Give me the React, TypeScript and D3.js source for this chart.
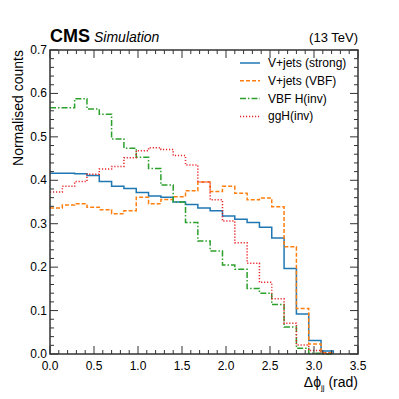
import React, { useEffect, useRef } from 'react';
import * as d3 from 'd3';

// bin width 0.14 rad, 23 filled bins from 0 to 3.22
const binWidth = 0.14;
const strong = [0.416, 0.416, 0.415, 0.411, 0.397, 0.386, 0.381, 0.372, 0.364, 0.361, 0.350, 0.344, 0.336, 0.330, 0.318, 0.310, 0.303, 0.292, 0.267, 0.197, 0.092, 0.031, 0.007];
const vbf = [0.336, 0.343, 0.346, 0.338, 0.332, 0.323, 0.330, 0.361, 0.346, 0.356, 0.362, 0.376, 0.396, 0.374, 0.386, 0.370, 0.355, 0.359, 0.339, 0.247, 0.105, 0.023, 0.003];
const vbfH = [0.567, 0.567, 0.588, 0.564, 0.552, 0.495, 0.474, 0.453, 0.427, 0.389, 0.350, 0.303, 0.260, 0.237, 0.205, 0.195, 0.151, 0.140, 0.114, 0.062, 0.013, 0.002, 0];
const ggH = [0.373, 0.386, 0.397, 0.414, 0.426, 0.432, 0.452, 0.468, 0.475, 0.471, 0.457, 0.435, 0.396, 0.355, 0.306, 0.256, 0.209, 0.165, 0.127, 0.071, 0.021, 0.008, 0.002];

const seriesNames = ['V+jets (strong)', 'V+jets (VBF)', 'VBF H(inv)', 'ggH(inv)'];
const xTicks = [0, 0.5, 1.0, 1.5, 2.0, 2.5, 3.0, 3.5];
const yTicks = [0, 0.1, 0.2, 0.3, 0.4, 0.5, 0.6, 0.7];

const App = () => {
  const svgRef = useRef(null);

  useEffect(() => {
    const W = 399, H = 399;
    const margin = { top: 50, right: 41, bottom: 45, left: 50 };
    const width = W - margin.left - margin.right;
    const height = H - margin.top - margin.bottom;
    const font = '"Liberation Sans", Arial, Helvetica, sans-serif';

    const root = d3.select(svgRef.current).attr('width', W).attr('height', H);
    root.selectAll('*').remove();
    const svg = root.append('g').attr('transform', `translate(${margin.left},${margin.top})`);

    const x = d3.scaleLinear().domain([0, 3.5]).range([0, width]);
    const y = d3.scaleLinear().domain([0, 0.7]).range([height, 0]);

    const styles = [
      { data: strong, color: '#1f77b4', dash: null },
      { data: vbf, color: '#ff7f0e', dash: '4,2' },
      { data: vbfH, color: '#2ca02c', dash: '6,2,1.5,2' },
      { data: ggH, color: '#e8262a', dash: '1.2,1.8' },
    ];

    const line = d3.line<[number, number]>()
      .x(d => x(d[0]))
      .y(d => y(d[1]))
      .curve(d3.curveStepAfter);

    styles.forEach(s => {
      const pts: [number, number][] = s.data.map((v, i) => [i * binWidth, v]);
      pts.push([s.data.length * binWidth, 0]);
      svg.append('path')
        .attr('d', line(pts))
        .attr('fill', 'none')
        .attr('stroke', s.color)
        .attr('stroke-width', 1.5)
        .attr('stroke-dasharray', s.dash);
    });

    // frame and ticks on all sides
    const axisColor = '#333';
    const majorLen = 8, minorLen = 4;
    const xMinor = d3.range(0, 3.5001, 0.1);
    const yMinor = d3.range(0, 0.7001, 0.02);
    const tickG = svg.append('g').attr('stroke', axisColor).attr('stroke-width', 1);
    xMinor.forEach(v => {
      const isMajor = Math.abs(v * 2 - Math.round(v * 2)) < 1e-6;
      const len = isMajor ? majorLen : minorLen;
      tickG.append('line').attr('x1', x(v)).attr('x2', x(v)).attr('y1', height).attr('y2', height - len);
      tickG.append('line').attr('x1', x(v)).attr('x2', x(v)).attr('y1', 0).attr('y2', len);
    });
    yMinor.forEach(v => {
      const isMajor = Math.abs(v * 10 - Math.round(v * 10)) < 1e-6;
      const len = isMajor ? majorLen : minorLen;
      tickG.append('line').attr('y1', y(v)).attr('y2', y(v)).attr('x1', 0).attr('x2', len);
      tickG.append('line').attr('y1', y(v)).attr('y2', y(v)).attr('x1', width).attr('x2', width - len);
    });
    svg.append('rect')
      .attr('width', width).attr('height', height)
      .attr('fill', 'none').attr('stroke', axisColor).attr('stroke-width', 1.5);

    svg.selectAll('.xl').data(xTicks).enter().append('text')
      .attr('x', d => x(d)).attr('y', height + 16)
      .attr('text-anchor', 'middle')
      .style('font-family', font).style('font-size', '12px')
      .text(d => d.toFixed(1));

    svg.selectAll('.yl').data(yTicks).enter().append('text')
      .attr('x', -3).attr('y', d => y(d) + 4)
      .attr('text-anchor', 'end')
      .style('font-family', font).style('font-size', '12px')
      .text(d => d.toFixed(1));

    // axis titles
    svg.append('text')
      .attr('transform', 'rotate(-90)')
      .attr('x', 0).attr('y', -27)
      .attr('text-anchor', 'end')
      .style('font-family', font).style('font-size', '14px')
      .text('Normalised counts');

    const xl = svg.append('text')
      .attr('x', width).attr('y', height + 33)
      .attr('text-anchor', 'end')
      .style('font-family', font).style('font-size', '14px');
    xl.append('tspan').text('\u0394\u03d5');
    xl.append('tspan').attr('dy', 3).style('font-size', '8px').text('jj');
    xl.append('tspan').attr('dy', -3).text(' (rad)');

    // CMS header
    const hdr = svg.append('text').attr('x', 0).attr('y', -8).style('font-family', font);
    hdr.append('tspan').style('font-weight', 'bold').style('font-size', '18px').text('CMS');
    hdr.append('tspan').attr('dx', 4).style('font-style', 'italic').style('font-size', '14px').text('Simulation');

    svg.append('text')
      .attr('x', width).attr('y', -8)
      .attr('text-anchor', 'end')
      .style('font-family', font).style('font-size', '13px')
      .text('(13 TeV)');

    // legend
    const leg = svg.append('g').attr('transform', `translate(${240 - margin.left},${63 - margin.top})`);
    styles.forEach((s, i) => {
      const g = leg.append('g').attr('transform', `translate(0,${i * 17.8})`);
      g.append('line')
        .attr('x1', 0).attr('x2', 20).attr('y1', 0).attr('y2', 0)
        .attr('stroke', s.color).attr('stroke-width', 1.5)
        .attr('stroke-dasharray', s.dash);
      g.append('text')
        .attr('x', 28).attr('y', 4)
        .style('font-family', font).style('font-size', '12px')
        .text(seriesNames[i]);
    });
  }, []);

  return (
    <svg ref={svgRef} style={{ position: 'absolute', left: 0, top: 0 }}></svg>
  );
};

export default App;
